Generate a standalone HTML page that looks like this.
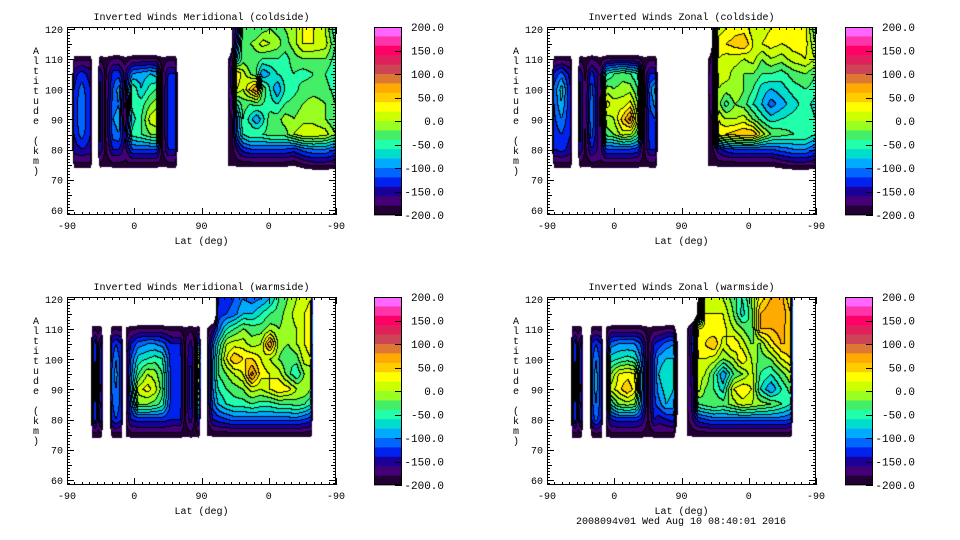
<!DOCTYPE html>
<html><head><meta charset="utf-8">
<style>
html,body{margin:0;padding:0;background:#fff;}
#root{position:relative;width:960px;height:540px;overflow:hidden;background:#fff;}
canvas{position:absolute;}
svg{position:absolute;left:0;top:0;}
text{font-family:"Liberation Mono","DejaVu Sans Mono",monospace;font-size:10px;fill:#000;}
</style></head>
<body>
<div id="root">
<svg id="svg" width="960" height="540"></svg>
</div>
<script>
const N = null;
const altRows = [70,75,80,85,90,95,100,105,110,115,120];
const cbTicks = [200,150,100,50,0,-50,-100,-150,-200];
const latTickLabels = ["-90","0","90","0","-90"];
const altTicks = [60,70,80,90,100,110,120];
const bandColors = ["#ff66ff","#ff33aa","#ff0066","#e0205a","#cc4455","#dd7733","#ffaa00","#ffcc00","#ffff00","#ccff00","#99ff22","#44ee66","#22ffaa","#00ddcc","#00aaff","#0066ff","#0022ee","#1a0099","#440077","#220033"];
const E = [N,N,N,N,N,N,N,N,N,N,N];

const tlLats = [4,10,20,32,36,39,44,52,62,70,78,88,100,112,120,128,136,146,150,212,216,222,228,236,246,254,262,272,282,292,304,316,330,346,360];
const tlVals = [E,
[N,-185,-150,-140,-135,-135,-140,-150,-185,N,N],
[N,-185,-140,-110,-100,-100,-110,-130,-185,N,N],
[N,-185,-150,-140,-140,-140,-140,-150,-185,N,N],
E,E,
[N,-185,-140,-130,-130,-130,-130,-140,-185,N,N],
[N,-190,-185,-185,-185,-185,-185,-185,-190,N,N],
[N,-185,-140,-110,-100,-110,-120,-130,-180,N,N],
[N,-185,-140,-100,-90,-100,-90,-130,-180,N,N],
[N,-185,-170,-160,-180,-185,-170,-165,-190,N,N],
[N,-185,-120,-50,-70,-50,-40,-100,-180,N,N],
[N,-185,-120,-40,-40,-50,-80,-90,-180,N,N],
[N,-185,-120,-20,10,-20,-50,-80,-180,N,N],
[N,-185,-120,-20,20,-10,-40,-90,-180,N,N],
[N,-190,-185,-185,-185,-185,-185,-185,-190,N,N],
[N,-185,-140,-130,-130,-130,-130,-140,-185,N,N],
[N,-185,-140,-125,-125,-125,-130,-140,-185,N,N],
E,E,
[N,-195,-185,-185,-185,-185,-185,-185,-195,N,N],
[N,-195,-185,-180,-180,-170,-150,-140,-170,-185,-185],
[N,-190,-160,-110,-110,-60,20,40,-80,-120,-150],
[N,-190,-130,-60,-40,-30,0,10,-30,-20,-40],
[N,-190,-120,-40,-70,-40,50,-20,-40,-20,-40],
[N,-190,-120,-40,-100,-30,80,-40,-30,-10,-40],
[N,-190,-120,-40,-70,-40,-20,-100,-40,10,-30],
[N,-190,-120,-30,-30,-50,-60,-80,-40,0,-20],
[N,-190,-120,-30,-30,-60,-100,-60,-40,-10,-30],
[N,-190,-120,-30,-10,-40,-60,-50,-50,-30,-20],
[N,-195,-130,0,-20,-30,-50,-40,-30,-10,-10],
[N,-180,-110,20,-10,-20,-30,-50,-20,20,20],
[N,-170,-100,20,-10,-10,-30,-40,-20,20,20],
[N,-170,-100,10,-20,-20,-30,-40,-20,10,0],
[N,-175,-120,-20,-40,-40,-50,-60,-50,-40,-60]];

const trLats = [4,10,20,32,36,39,44,52,60,72,80,90,102,112,122,130,138,146,150,212,216,222,230,240,252,264,276,288,300,314,330,346,360];
const trVals = [E,
[N,-185,-140,-130,-125,-120,-115,-135,-185,N,N],
[N,-185,-130,-120,-100,-80,-70,-110,-185,N,N],
[N,-185,-150,-140,-140,-140,-140,-150,-185,N,N],
E,E,
[N,-185,-140,-130,-130,-130,-130,-140,-185,N,N],
[N,-190,-185,-185,-180,-180,-180,-185,-190,N,N],
[N,-185,-140,-110,-100,-100,-110,-130,-180,N,N],
[N,-185,-170,-180,-185,-185,-180,-170,-190,N,N],
[N,-185,-120,-30,-10,30,-10,-60,-180,N,N],
[N,-185,-120,-20,0,10,-20,-40,-180,N,N],
[N,-185,-120,10,50,10,-10,-30,-180,N,N],
[N,-185,-120,0,90,30,-10,-40,-180,N,N],
[N,-185,-130,-40,0,-20,-40,-60,-180,N,N],
[N,-190,-185,-185,-185,-185,-185,-185,-190,N,N],
[N,-185,-140,-130,-130,-120,-110,-140,-185,N,N],
[N,-185,-140,-130,-120,-90,-70,-140,-185,N,N],
E,E,
[N,-195,-185,-185,-185,-185,-185,-185,-195,N,N],
[N,-195,-185,-180,-180,-170,-160,-160,-170,-185,-185],
[N,-190,-150,30,20,-10,0,10,20,30,10],
[N,-190,-130,40,0,-50,-10,10,10,40,20],
[N,-190,-120,50,0,-20,0,-10,10,50,30],
[N,-190,-120,60,10,-30,-20,-20,0,60,30],
[N,-190,-120,60,-20,-60,-40,-20,10,20,10],
[N,-190,-120,10,-50,-80,-70,-40,-20,20,10],
[N,-190,-120,-20,-70,-110,-80,-40,0,30,20],
[N,-180,-110,-30,-60,-90,-70,-50,-10,20,20],
[N,-170,-100,-40,-50,-70,-50,-30,10,30,30],
[N,-170,-100,-40,-40,-50,-40,-20,20,30,30],
[N,-175,-120,-60,-60,-70,-50,-40,0,-20,-40]];

const blLats = [30,34,38,42,46,50,55,60,66,73,76,79,86,96,108,118,128,140,152,158,166,172,177,180,184,188,196,203,214,224,236,248,260,272,284,296,308,318,327,330];
const blVals = [E,
[N,-185,-165,-165,-165,-165,-165,-165,-185,N,N],
[N,-185,-120,-120,-110,-110,-120,-120,-185,N,N],
[N,-185,-170,-170,-170,-170,-170,-170,-185,N,N],
[N,-185,-120,-130,-110,-120,-120,-130,-185,N,N],
E,E,
[N,-185,-140,-130,-120,-120,-130,-140,-185,N,N],
[N,-185,-120,-100,-100,-90,-100,-120,-185,N,N],
[N,-185,-140,-130,-130,-130,-130,-140,-185,N,N],
E,
[N,-190,-185,-185,-185,-185,-185,-185,-190,N,N],
[N,-185,-140,-120,-100,-110,-120,-140,-185,N,N],
[N,-185,-130,-20,10,-40,-70,-110,-180,N,N],
[N,-185,-130,-20,30,0,-60,-100,-180,N,N],
[N,-185,-130,-30,10,-10,-50,-100,-180,N,N],
[N,-185,-130,-50,-30,-40,-60,-110,-180,N,N],
[N,-185,-140,-130,-130,-130,-130,-140,-185,N,N],
[N,-185,-140,-125,-125,-125,-125,-140,-185,N,N],
[N,-190,-185,-185,-185,-185,-185,-185,-190,N,N],
[N,-185,-150,-130,-130,-130,-140,-150,-185,N,N],
[N,-190,-185,-185,-185,-185,-185,-185,-190,N,N],
[N,-185,-130,-50,10,40,60,-100,-180,N,N],
E,E,
[N,-195,-185,-185,-185,-185,-185,-185,-195,N,N],
[N,-190,-140,-110,-100,-100,-100,-110,-160,N,N],
[N,-190,-130,-80,-60,-40,-40,-60,-110,-130,-140],
[N,-190,-120,-60,-40,-20,20,0,-60,-120,-130],
[N,-190,-110,-50,-30,0,60,10,-40,-110,-120],
[N,-190,-110,-50,-20,20,40,10,-20,-80,-100],
[N,-190,-110,-40,10,90,40,-10,-30,-80,-110],
[N,-190,-110,-50,0,30,20,0,-30,-60,-100],
[N,-190,-110,-50,20,20,0,80,-10,-40,-80],
[N,-190,-110,-40,40,10,-20,-10,-20,-30,-40],
[N,-190,-110,-40,30,-30,-40,-20,-10,-10,-20],
[N,-190,-110,-30,0,-60,-30,0,0,10,0],
[N,-190,-120,-40,0,-20,10,20,20,20,10],
[N,-190,-130,-60,-20,-20,20,30,30,30,20],
E];

const brLats = [30,34,38,42,46,50,55,60,66,73,76,79,86,96,108,118,126,136,144,150,160,170,178,184,188,196,203,212,224,236,250,262,274,286,300,314,327,330];
const brVals = [E,
[N,-185,-165,-165,-165,-165,-165,-165,-185,N,N],
[N,-185,-120,-120,-110,-110,-120,-120,-185,N,N],
[N,-185,-170,-170,-170,-170,-170,-170,-185,N,N],
[N,-185,-120,-130,-110,-120,-120,-130,-185,N,N],
E,E,
[N,-185,-140,-130,-130,-130,-130,-140,-185,N,N],
[N,-185,-110,-100,-90,-90,-100,-120,-185,N,N],
[N,-185,-140,-130,-130,-130,-130,-140,-185,N,N],
E,
[N,-190,-185,-185,-185,-185,-185,-185,-190,N,N],
[N,-185,-140,-60,10,-20,-70,-110,-180,N,N],
[N,-185,-130,-20,30,20,-60,-100,-180,N,N],
[N,-185,-130,-10,60,30,-50,-100,-180,N,N],
[N,-185,-130,-20,30,20,-60,-100,-180,N,N],
[N,-185,-140,-90,-80,-80,-100,-120,-180,N,N],
[N,-190,-185,-185,-185,-185,-185,-185,-190,N,N],
[N,-185,-140,-125,-125,-125,-125,-140,-185,N,N],
[N,-185,-150,-110,-90,-80,-90,-130,-185,N,N],
[N,-185,-140,-80,-70,-60,-80,-110,-180,N,N],
[N,-185,-130,-90,-80,-70,-80,-100,-180,N,N],
E,E,
[N,-195,-185,-185,-185,-185,-185,-185,-195,N,N],
[N,-190,-160,-150,-150,-140,-140,-120,-140,N,N],
[N,-190,-130,-40,10,10,20,30,20,-170,-185],
[N,-190,-120,-30,-20,0,20,40,30,20,0],
[N,-190,-110,-20,-40,-40,10,60,20,20,0],
[N,-190,-110,-30,-70,-100,-20,10,30,20,0],
[N,-190,-110,-10,20,-40,0,40,0,-20,-30],
[N,-190,-110,10,40,-20,40,10,-20,-70,-60],
[N,-190,-110,0,20,10,0,-20,-40,-30,-20],
[N,-190,-110,-10,-60,-40,-30,-20,60,60,30],
[N,-190,-110,-20,-100,-60,-20,30,60,80,60],
[N,-190,-110,-40,-60,-30,20,60,70,80,70],
[N,-190,-120,-60,-30,0,40,60,40,40,20],
E];

const PW = 269, PH = 188, ALT_TOP = 120.66, ALT_BOT = 58.3;
function xScale(p){ return p / 360 * PW; }
function yScale(a){ return (ALT_TOP - a) / (ALT_TOP - ALT_BOT) * PH; }
function xInv(px){ return px / PW * 360; }
function yInv(py){ return ALT_TOP - py / PH * (ALT_TOP - ALT_BOT); }
function hex(c){ return [parseInt(c.substr(1,2),16),parseInt(c.substr(3,2),16),parseInt(c.substr(5,2),16)]; }
const rgb = bandColors.map(hex);

function sample(lats, vals, p, a){
  if (a < altRows[0]) return NaN;
  if (a > 120) a = 120;
  let i = -1;
  for (let k = 0; k < lats.length - 1; k++) if (p >= lats[k] && p <= lats[k+1]) { i = k; break; }
  if (i < 0) return NaN;
  let j = Math.min(Math.floor((a - 70) / 5), altRows.length - 2);
  const tx = (p - lats[i]) / (lats[i+1] - lats[i]);
  const ty = (a - altRows[j]) / 5;
  const g = (c, r) => { const v = vals[c][r]; return v === null ? -260 : v; };
  const v0 = g(i,j)*(1-tx) + g(i+1,j)*tx;
  const v1 = g(i,j+1)*(1-tx) + g(i+1,j+1)*tx;
  return v0*(1-ty) + v1*ty;
}

function drawField(ox, oy, lats, vals, name){
  const cv = document.createElement('canvas');
  cv.width = PW; cv.height = PH;
  cv.style.left = (67+ox)+'px'; cv.style.top = (27+oy)+'px';
  
  
  document.getElementById('root').insertBefore(cv, document.getElementById('svg'));
  const ctx = cv.getContext('2d');
  const img = ctx.createImageData(PW, PH);
  const lv = new Int8Array(PW*PH);
  for (let py = 0; py < PH; py++) for (let px = 0; px < PW; px++) {
    const v = sample(lats, vals, xInv(px+0.5), yInv(py+0.5));
    let l = -1;
    if (!isNaN(v) && v >= -200) l = Math.max(0, Math.min(19, Math.floor((v+200)/20)));
    lv[py*PW+px] = l;
  }
  for (let py = 0; py < PH; py++) for (let px = 0; px < PW; px++) {
    const k = py*PW+px, l = lv[k], o = k*4;
    let c = [255,255,255];
    if (l >= 0) {
      c = rgb[19-l];
      const r = px+1 < PW ? lv[k+1] : l, d = py+1 < PH ? lv[k+PW] : l;
      if ((r >= 0 && r !== l) || (d >= 0 && d !== l)) c = [0,0,0];
    }
    img.data[o]=c[0]; img.data[o+1]=c[1]; img.data[o+2]=c[2]; img.data[o+3]=255;
  }
  ctx.putImageData(img, 0, 0);
}

const svg = document.getElementById('svg');
const NS = 'http://www.w3.org/2000/svg';
function mk(tag, attrs){ const e = document.createElementNS(NS, tag); for (const k in attrs) e.setAttribute(k, attrs[k]); svg.appendChild(e); return e; }

function drawPanel(ox, oy, title, lats, vals, key){
  drawField(ox, oy, lats, vals, key+'-contour-field');
  const x0 = 67+ox, y0 = 27+oy;
  const fr = mk('rect', {x:x0+0.5, y:y0+0.5, width:PW-1, height:PH-1, fill:'none', stroke:'#000', 'stroke-width':1});
  
  
  let d = '';
  for (let a = 59; a <= 120; a += 1) {
    const y = Math.round(y0 + yScale(a)) + 0.5, len = a % 10 === 0 ? 7 : (a % 5 === 0 ? 5 : 3);
    d += `M${x0} ${y}h${len}M${x0+PW} ${y}h${-len}`;
  }
  for (let p = 0; p <= 360; p += 10) {
    const x = Math.round(x0 + xScale(p)) + 0.5, len = p % 90 === 0 ? 7 : 3;
    d += `M${x} ${y0+PH}v${-len}M${x} ${y0}v${len}`;
  }
  const tk = mk('path', {d:d, stroke:'#000', 'stroke-width':1, fill:'none'});
  
  
  const t = mk('text', {x:x0+PW/2, y:oy+20, 'text-anchor':'middle'}); t.textContent = title;
  
  
  altTicks.forEach(a => {
    const e = mk('text', {x:ox+63, y:y0+yScale(a)+4, 'text-anchor':'end'}); e.textContent = String(a);
    
    
  });
  latTickLabels.forEach((s, i) => {
    const e = mk('text', {x:x0+xScale(i*90), y:oy+229, 'text-anchor':'middle'}); e.textContent = s;
    
    
  });
  const xl = mk('text', {x:x0+PW/2, y:oy+244, 'text-anchor':'middle'}); xl.textContent = 'Lat (deg)';
  
  
  const yl = mk('text', {x:ox+36, y:0, 'text-anchor':'middle'});
  
  
  'Altitude (km)'.split('').forEach((ch, i) => {
    const ts = document.createElementNS(NS, 'tspan');
    ts.setAttribute('x', ox+36); ts.setAttribute('y', oy+54+i*10);
    ts.textContent = ch === ' ' ? '\u00a0' : ch;
    yl.appendChild(ts);
  });
  const cx = (ox === 0 ? 374 : 845), cy = y0, bw = 28, bh = PH;
  bandColors.forEach((c, i) => {
    const r = mk('rect', {x:cx, y:cy+i*bh/20, width:bw, height:bh/20+0.4, fill:c});
    
    
  });
  const cf = mk('rect', {x:cx+0.5, y:cy+0.5, width:bw-1, height:bh-1, fill:'none', stroke:'#000', 'stroke-width':1});
  
  
  const lx = ox === 0 ? 444 : 915;
  cbTicks.forEach(v => {
    const y = cy + (200 - v) / 400 * bh;
    const tm = mk('line', {x1:cx+bw-7, x2:cx+bw, y1:Math.round(y)+0.5, y2:Math.round(y)+0.5, stroke:'#000'});
    
    
    const s = v.toFixed(1);
    const e = mk('text', {x:lx, y:y+4, 'text-anchor':'end', style:'font-size:11px'});
    e.textContent = s;
    
    
  });
}

drawPanel(0, 0, 'Inverted Winds Meridional (coldside)', tlLats, tlVals, 'meridional-coldside');
drawPanel(480, 0, 'Inverted Winds Zonal (coldside)', trLats, trVals, 'zonal-coldside');
drawPanel(0, 270, 'Inverted Winds Meridional (warmside)', blLats, blVals, 'meridional-warmside');
drawPanel(480, 270, 'Inverted Winds Zonal (warmside)', brLats, brVals, 'zonal-warmside');
const ft = mk('text', {x:681, y:524, 'text-anchor':'middle'}); ft.textContent = '2008094v01 Wed Aug 10 08:40:01 2016';


</script>
</body></html>
